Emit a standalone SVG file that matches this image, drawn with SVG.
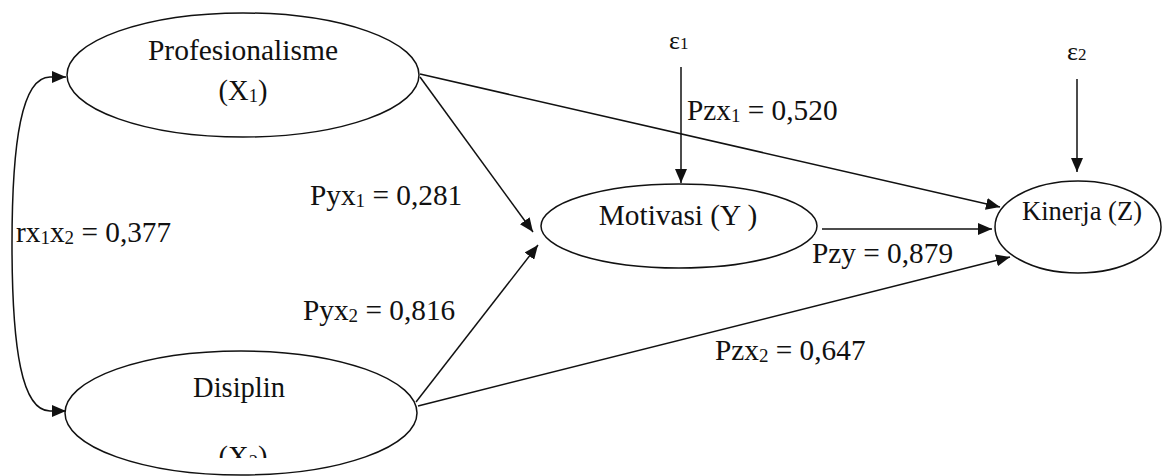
<svg xmlns="http://www.w3.org/2000/svg" width="1162" height="476" viewBox="0 0 1162 476">
<style>
.node{fill:#fff;stroke:#111;stroke-width:1.5;}
.edge{fill:none;stroke:#111;stroke-width:1.5;}
.t{font-family:'Liberation Serif','DejaVu Serif','Times New Roman',serif;fill:#111;}
.lbl{font-size:29.3px;}
</style>
<defs>
<marker id="ah" markerUnits="userSpaceOnUse" markerWidth="14" markerHeight="12" viewBox="0 0 14 12" refX="14" refY="6" orient="auto-start-reverse">
<path d="M0,0 L14,6 L0,12 Z" fill="#111"/>
</marker>
<clipPath id="clipX2"><rect x="150" y="330" width="200" height="128"/></clipPath>
</defs>
<rect width="1162" height="476" fill="#fff"/>
<g id="connectors">
<path class="edge" d="M66,77 L50,77 C22,77 12,140 12,244 C12,350 22,411 50,411 L66,411" marker-start="url(#ah)" marker-end="url(#ah)"/>
<line class="edge" x1="420" y1="74" x2="1000" y2="207" marker-end="url(#ah)"/>
<line class="edge" x1="420" y1="77" x2="533" y2="232" marker-end="url(#ah)"/>
<line class="edge" x1="416" y1="402" x2="538" y2="245" marker-end="url(#ah)"/>
<line class="edge" x1="418" y1="406" x2="1010" y2="257" marker-end="url(#ah)"/>
<line class="edge" x1="822" y1="229" x2="992" y2="229" marker-end="url(#ah)"/>
<line class="edge" x1="681" y1="67" x2="681" y2="183" marker-end="url(#ah)"/>
<line class="edge" x1="1077" y1="79" x2="1077" y2="172" marker-end="url(#ah)"/>
</g>
<g id="node-x1">
<ellipse class="node" cx="243" cy="75" rx="176" ry="62"/>
<text class="t" x="243" y="60" font-size="29.5" text-anchor="middle">Profesionalisme</text>
<text class="t" x="243" y="100" font-size="28.5" text-anchor="middle">(X<tspan font-size="18.5" dy="2">1</tspan><tspan dy="-2">)</tspan></text>
</g>
<g id="node-x2">
<ellipse class="node" cx="241" cy="413" rx="176" ry="62"/>
<text class="t" x="239" y="397" font-size="28.5" text-anchor="middle">Disiplin</text>
<text class="t" x="243" y="466" font-size="28.5" text-anchor="middle" clip-path="url(#clipX2)">(X<tspan font-size="18.5" dy="2">2</tspan><tspan dy="-2">)</tspan></text>
</g>
<g id="node-y">
<ellipse class="node" cx="679" cy="226" rx="138" ry="42"/>
<text class="t" x="678" y="225" font-size="29.3" text-anchor="middle">Motivasi (Y )</text>
</g>
<g id="node-z">
<ellipse class="node" cx="1078" cy="227" rx="83" ry="46"/>
<text class="t" x="1082" y="220" font-size="26.5" text-anchor="middle">Kinerja (Z)</text>
</g>
<g id="node-e1">
<text class="t" x="669" y="49" font-size="26" fill="#333">ε<tspan font-size="17">1</tspan></text>
</g>
<g id="node-e2">
<text class="t" x="1067" y="60" font-size="26" fill="#333">ε<tspan font-size="17">2</tspan></text>
</g>
<g id="labels">
<text class="t lbl" x="687" y="120">Pzx<tspan font-size="19" dy="2">1</tspan><tspan dy="-2"> = 0,520</tspan></text>
<text class="t lbl" x="310" y="205">Pyx<tspan font-size="19" dy="2">1</tspan><tspan dy="-2"> = 0,281</tspan></text>
<text class="t lbl" x="303" y="320">Pyx<tspan font-size="19" dy="2">2</tspan><tspan dy="-2"> = 0,816</tspan></text>
<text class="t lbl" x="715" y="360">Pzx<tspan font-size="19" dy="2">2</tspan><tspan dy="-2"> = 0,647</tspan></text>
<text class="t lbl" x="812" y="263">Pzy = 0,879</text>
<text class="t lbl" x="16" y="242">rx<tspan font-size="19" dy="2">1</tspan><tspan dy="-2">x</tspan><tspan font-size="19" dy="2">2</tspan><tspan dy="-2"> = 0,377</tspan></text>
</g>
</svg>
